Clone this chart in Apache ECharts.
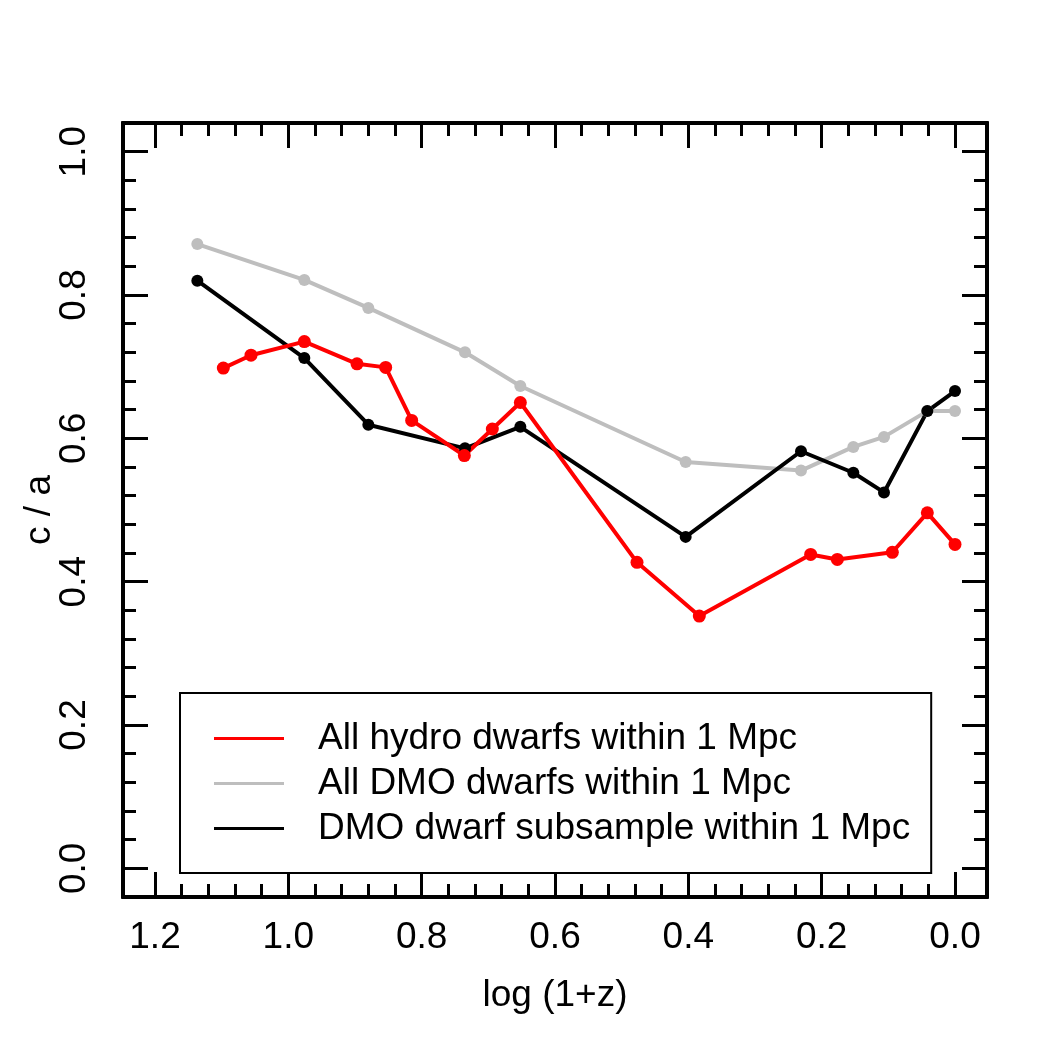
<!DOCTYPE html>
<html>
<head>
<meta charset="utf-8">
<script src="https://cdn.jsdelivr.net/npm/echarts@6/dist/echarts.min.js"></script>
<style>
html, body { margin: 0; padding: 0; background: #fff; }
#chart { width: 1050px; height: 1050px; }
</style>
</head>
<body>
<div id="chart"></div>
<script>
// log(1+z) of the snapshots
const hydroX = [1.0975, 1.056, 0.976, 0.897, 0.854, 0.815, 0.736, 0.694, 0.652, 0.477, 0.3835, 0.2165, 0.1765, 0.094, 0.0415, 0.0];
const hydroY = [0.698, 0.716, 0.735, 0.704, 0.699, 0.625, 0.576, 0.613, 0.650, 0.427, 0.352, 0.438, 0.431, 0.441, 0.496, 0.452];
const dmoX = [1.1365, 0.976, 0.880, 0.735, 0.652, 0.404, 0.231, 0.1525, 0.1065, 0.0415, 0.0];
const dmoAllY = [0.871, 0.821, 0.782, 0.720, 0.673, 0.567, 0.555, 0.588, 0.602, 0.638, 0.638];
const dmoSubY = [0.820, 0.712, 0.619, 0.586, 0.616, 0.4625, 0.582, 0.552, 0.5245, 0.638, 0.666];

const seriesNames = [
  "All hydro dwarfs within 1 Mpc",
  "All DMO dwarfs within 1 Mpc",
  "DMO dwarf subsample within 1 Mpc"
];

// ticks
const xMajor = [0, 0.2, 0.4, 0.6, 0.8, 1.0, 1.2];
const xMinor = [0.04, 0.08, 0.12, 0.16, 0.24, 0.28, 0.32, 0.36, 0.44, 0.48, 0.52, 0.56,
  0.64, 0.68, 0.72, 0.76, 0.84, 0.88, 0.92, 0.96, 1.04, 1.08, 1.12, 1.16];
const yMajor = [0, 0.2, 0.4, 0.6, 0.8, 1.0];
const yMinor = [0.04, 0.08, 0.12, 0.16, 0.24, 0.28, 0.32, 0.36, 0.44, 0.48, 0.52, 0.56,
  0.64, 0.68, 0.72, 0.76, 0.84, 0.88, 0.92, 0.96];

const FONT = "Liberation Sans, Arial, sans-serif";
const FS = 37;

function zip(xs, ys) {
  return xs.map((x, i) => [x, ys[i]]);
}

//one axis per side and tick length
function xAx(pos, ticks, len, labels) {
  return {
    type: "value", position: pos, offset: 0,
    min: -0.048, max: 1.248, inverse: true,
    axisLine: { show: true, onZero: false, lineStyle: { color: "#000", width: 4 } },
    axisTick: { show: true, inside: true, length: len, customValues: ticks, lineStyle: { color: "#000", width: 3 } },
    axisLabel: labels ? {
      show: true, customValues: ticks, margin: 22, color: "#000",
      fontSize: FS, fontFamily: FONT, formatter: (v) => v.toFixed(1)
    } : { show: false },
    splitLine: { show: false }
  };
}
function yAx(pos, ticks, len, labels) {
  return {
    type: "value", position: pos, offset: 0,
    min: -0.04, max: 1.04,
    axisLine: { show: true, onZero: false, lineStyle: { color: "#000", width: 4 } },
    axisTick: { show: true, inside: true, length: len, customValues: ticks, lineStyle: { color: "#000", width: 3 } },
    axisLabel: labels ? {
      show: true, customValues: ticks, margin: 30, rotate: 90, color: "#000",
      fontSize: FS, fontFamily: FONT, formatter: (v) => v.toFixed(1)
    } : { show: false },
    splitLine: { show: false }
  };
}

const xAxes = [
  xAx("bottom", xMajor, 25, true),
  xAx("bottom", xMinor, 13, false),
  xAx("top", xMajor, 25, false),
  xAx("top", xMinor, 13, false)
];
xAxes[0].name = "log (1+z)";
xAxes[0].nameLocation = "middle";
xAxes[0].nameGap = 80;
xAxes[0].nameMoveOverlap = false;
xAxes[0].nameTextStyle = { fontSize: FS, fontFamily: FONT, color: "#000" };

const yAxes = [
  yAx("left", yMajor, 25, true),
  yAx("left", yMinor, 13, false),
  yAx("right", yMajor, 25, false),
  yAx("right", yMinor, 13, false)
];
yAxes[0].name = "c / a";
yAxes[0].nameLocation = "middle";
yAxes[0].nameRotate = 90;
yAxes[0].nameGap = 65;
yAxes[0].nameMoveOverlap = false;
yAxes[0].nameTextStyle = { fontSize: FS, fontFamily: FONT, color: "#000" };

function lineSeries(name, data, color, size) {
  return {
    name: name,
    type: "line",
    xAxisIndex: 0,
    yAxisIndex: 0,
    data: data,
    symbol: "circle",
    symbolSize: size,
    showSymbol: true,
    lineStyle: { color: color, width: 4 },
    itemStyle: { color: color },
    animation: false
  };
}

const chart = echarts.init(document.getElementById("chart"), null, { renderer: "canvas" });
chart.setOption({
  backgroundColor: "#fff",
  animation: false,
  grid: { left: 123, right: 63, top: 123, bottom: 153, containLabel: false },
  xAxis: xAxes,
  yAxis: yAxes,
  legend: {
    data: seriesNames,
    orient: "vertical",
    left: 180,
    top: 693,
    icon: "rect",
    itemWidth: 70,
    itemHeight: 3,
    itemGap: 0,
    padding: [23, 21, 22, 34],
    borderColor: "#000",
    borderWidth: 2,
    backgroundColor: "#fff",
    selectedMode: false,
    textStyle: { fontSize: FS, fontFamily: FONT, color: "#000", lineHeight: 45, padding: [0, 0, 0, 29] }
  },
  series: [
    lineSeries(seriesNames[1], zip(dmoX, dmoAllY), "#bebebe", 12),
    lineSeries(seriesNames[2], zip(dmoX, dmoSubY), "#000000", 12),
    lineSeries(seriesNames[0], zip(hydroX, hydroY), "#ff0000", 13)
  ]
});
</script>
</body>
</html>
